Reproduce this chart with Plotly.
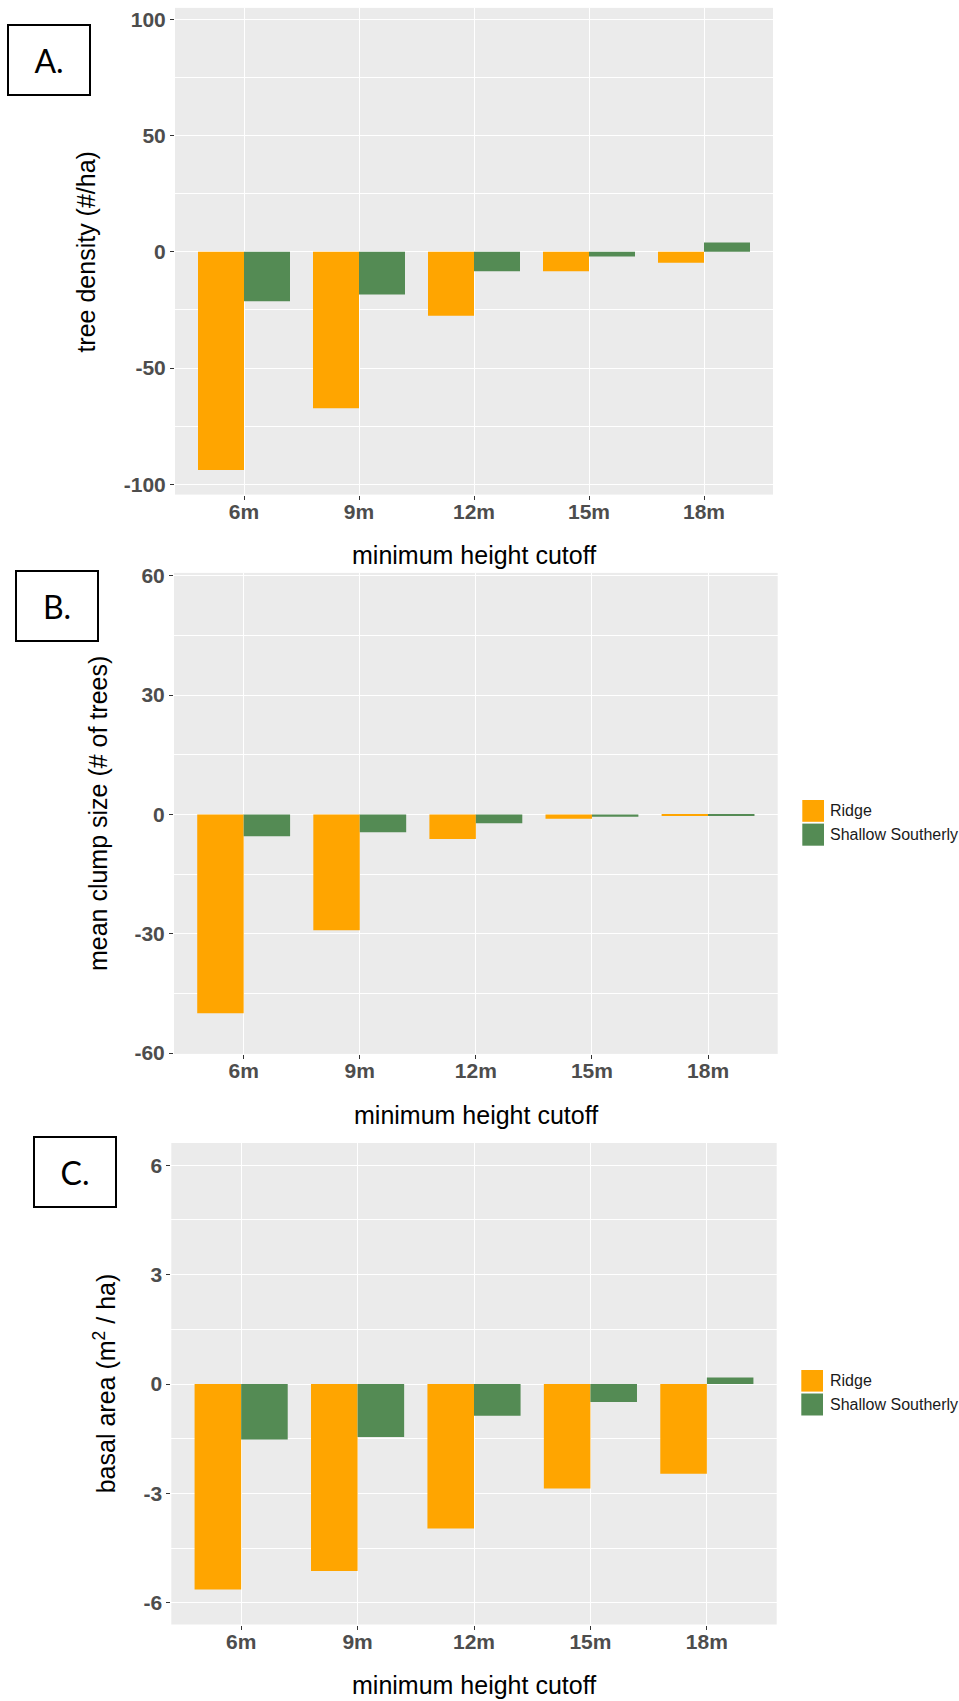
import plotly.graph_objects as go

# ---------------- data ----------------
categories = ["6m", "9m", "12m", "15m", "18m"]
series_names = ["Ridge", "Shallow Southerly"]
series_colors = ["#FFA500", "#548B54"]

density_ridge = [-93.8, -67.3, -27.5, -8.3, -4.7]
density_shallow = [-21.2, -18.4, -8.3, -2.0, 4.0]

clump_ridge = [-50.0, -29.1, -6.2, -1.1, -0.35]
clump_shallow = [-5.5, -4.5, -2.2, -0.6, -0.2]

basal_ridge = [-5.63, -5.12, -3.96, -2.86, -2.46]
basal_shallow = [-1.52, -1.45, -0.87, -0.49, 0.18]

ticks_a = [-100, -50, 0, 50, 100]
ticks_b = [-60, -30, 0, 30, 60]
ticks_c = [-6, -3, 0, 3, 6]

panel_labels = ["A.", "B.", "C."]
y_titles = ["tree density (#/ha)", "mean clump size (# of trees)",
            "basal area (m<sup>2</sup> / ha)"]
x_title = "minimum height cutoff"

# ---------------- layout helpers ----------------
W, H = 959, 1701
def fx(px):
    return px / W
def fy(py):
    return 1 - py / H

FONT = "Liberation Sans, Arial, sans-serif"
TICK_FONT = dict(family=FONT, size=21, color="#4D4D4D", weight="bold")

panels = [
    dict(box=(175, 773, 7.9, 494.6), yr=[-104.4, 104.9], ticks=ticks_a, minor=25,
         data=(density_ridge, density_shallow), legend=None),
    dict(box=(174, 777.7, 572.9, 1053.9), yr=[-60.2, 60.7], ticks=ticks_b, minor=15,
         data=(clump_ridge, clump_shallow),
         legend=dict(kx=(802.3, 824), ky=[(800, 821.8), (823.6, 845.7)], tx=828.3)),
    dict(box=(171.3, 776.7, 1143, 1624.5), yr=[-6.59, 6.61], ticks=ticks_c, minor=1.5,
         data=(basal_ridge, basal_shallow),
         legend=dict(kx=(801.3, 823), ky=[(1370, 1391.6), (1393.5, 1415.5)], tx=827.7)),
]

fig = go.Figure()
layout = dict(
    width=W, height=H,
    margin=dict(l=0, r=0, t=0, b=0, autoexpand=False),
    paper_bgcolor="white",
    plot_bgcolor="#EBEBEB",
    barmode="group", bargap=0.2, bargroupgap=0,
    font=dict(family=FONT, color="black"),
    showlegend=False,
)

annotations = []
shapes = []
for i, p in enumerate(panels):
    sfx = "" if i == 0 else str(i + 1)
    xa, ya = "x" + sfx, "y" + sfx
    l, r, t, b = p["box"]
    for k, name in enumerate(series_names):
        fig.add_trace(go.Bar(
            x=categories, y=p["data"][k], name=name,
            marker=dict(color=series_colors[k], line=dict(width=0)),
            xaxis=xa, yaxis=ya,
        ))
    layout["xaxis" + sfx] = dict(
        domain=[fx(l), fx(r)], anchor=ya, type="category",
        categoryorder="array", categoryarray=categories,
        range=[-0.6, len(categories) - 0.4], automargin=False,
        showgrid=True, gridcolor="white", gridwidth=1.2,
        ticks="outside", ticklen=4, tickwidth=1, tickcolor="#333333",
        tickfont=TICK_FONT, showline=False, zeroline=False,
        ticklabelstandoff=-6,
    )
    layout["yaxis" + sfx] = dict(
        domain=[fy(b), fy(t)], anchor=xa, automargin=False,
        range=p["yr"], tickmode="array", tickvals=p["ticks"],
        ticktext=[str(v) for v in p["ticks"]],
        showgrid=True, gridcolor="white", gridwidth=1.4,
        minor=dict(dtick=p["minor"], tick0=0, showgrid=True,
                   gridcolor="white", gridwidth=0.7, ticks=""),
        ticks="outside", ticklen=4, tickwidth=1, tickcolor="#333333",
        tickfont=TICK_FONT, showline=False, zeroline=False,
    )
    # legend keys (panels B and C)
    lg = p["legend"]
    if lg:
        for k, name in enumerate(series_names):
            y0, y1 = lg["ky"][k]
            shapes.append(dict(
                type="rect", xref="paper", yref="paper",
                x0=fx(lg["kx"][0]), x1=fx(lg["kx"][1]), y0=fy(y1), y1=fy(y0),
                fillcolor=series_colors[k], line=dict(width=0),
            ))
            annotations.append(dict(
                text=name, xref="paper", yref="paper",
                x=fx(lg["tx"]), y=fy((y0 + y1) / 2),
                xanchor="left", yanchor="middle", showarrow=False,
                font=dict(family=FONT, size=16, color="#1A1A1A"),
            ))

# panel label boxes
label_pos = [((6.7 + 91.3) / 2, (23.6 + 96.4) / 2),
             ((14.7 + 99.3) / 2, (569.6 + 642.1) / 2),
             ((32.3 + 117.3) / 2, (1135.2 + 1207.8) / 2)]
for lab, (cx, cy) in zip(panel_labels, label_pos):
    annotations.append(dict(
        text=lab, xref="paper", yref="paper", x=fx(cx), y=fy(cy),
        xanchor="center", yanchor="middle", showarrow=False,
        font=dict(family="Lato, Liberation Sans, sans-serif", size=32, color="black"),
        width=80, height=68, bordercolor="black", borderwidth=2, borderpad=0,
        align="center", valign="middle",
    ))

# axis titles
y_title_pos = [(86.4, 251.2), (98.7, 813.4), (104.5, 1383.8)]
for txt, (cx, cy) in zip(y_titles, y_title_pos):
    annotations.append(dict(
        text=txt, xref="paper", yref="paper", x=fx(cx), y=fy(cy),
        xanchor="center", yanchor="middle", showarrow=False, textangle=-90,
        font=dict(family=FONT, size=25, color="black"),
    ))
x_title_pos = [(474, 555.4), (475.8, 1114.8), (474, 1685.4)]
for cx, cy in x_title_pos:
    annotations.append(dict(
        text=x_title, xref="paper", yref="paper", x=fx(cx), y=fy(cy),
        xanchor="center", yanchor="middle", showarrow=False,
        font=dict(family=FONT, size=25, color="black"),
    ))

layout["annotations"] = annotations
layout["shapes"] = shapes
fig.update_layout(**layout)
fig.write_html("out.html")
